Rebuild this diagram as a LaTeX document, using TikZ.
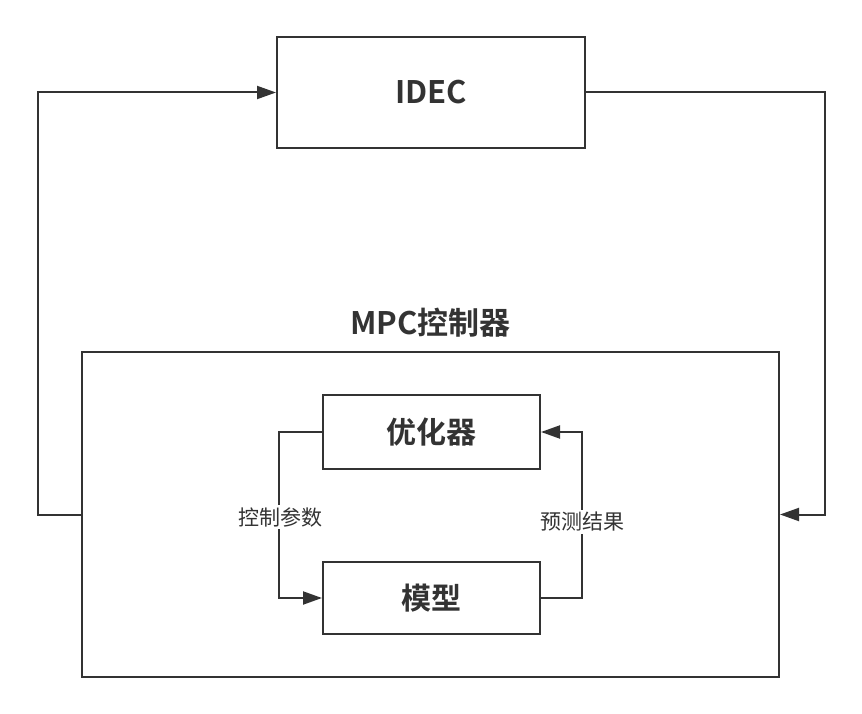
\documentclass[tikz,border=0pt]{standalone}
\usepackage{fontspec}
\setmainfont{Noto Sans CJK SC}[BoldFont={Noto Sans CJK SC Bold}]
\usepackage{tikz}
\usetikzlibrary{arrows.meta,positioning}
\definecolor{linegray}{HTML}{333333}
\tikzset{
  every picture/.style={draw=linegray, text=linegray},
  blockbox/.style={draw=linegray, line width=2pt, inner sep=0pt},
  flowline/.style={draw=linegray, line width=2pt},
  flowarrow/.style={flowline, -{Triangle[length=19pt,width=13pt]}},
  sidelabel/.style={fill=white, inner sep=2pt, font=\fontsize{21}{24}\selectfont},
}

\begin{document}
\begin{tikzpicture}[x=1pt, y=-1pt,
  every node/.style={text=linegray}]
\useasboundingbox (0,0) rectangle (862,714);
% Outer blocks
\node[blockbox, minimum width=308pt, minimum height=111pt,
  font=\fontsize{31}{36}\selectfont\bfseries] (idec) at (431,92.5) {IDEC};
\node[blockbox, minimum width=697pt, minimum height=325pt] (mpc) at (430.5,514.5) {};
\node[font=\fontsize{31}{36}\selectfont\bfseries, above=10pt of mpc.north] (mpclabel) {MPC控制器};
% Inner blocks
\node[blockbox, minimum width=217pt, minimum height=74pt,
  font=\fontsize{30}{36}\selectfont\bfseries] (opt) at (431.5,432) {优化器};
\node[blockbox, minimum width=217pt, minimum height=72pt,
  font=\fontsize{30}{36}\selectfont\bfseries] (model) at (431.5,598) {模型};
% Feedback between IDEC and MPC
\draw[flowarrow] (mpc.west) -| (38,300) |- (idec.west);
\draw[flowarrow] (idec.east) -| (825,300) |- (mpc.east);
% Inner loop
\draw[flowarrow] (opt.west) -| (279,520) |- (model.west);
\draw[flowarrow] (model.east) -| (582,520) |- (opt.east);
\node[sidelabel] (ctrl) at (280,517) {控制参数};
\node[sidelabel] (pred) at (582,522) {预测结果};
\end{tikzpicture}
\end{document}
